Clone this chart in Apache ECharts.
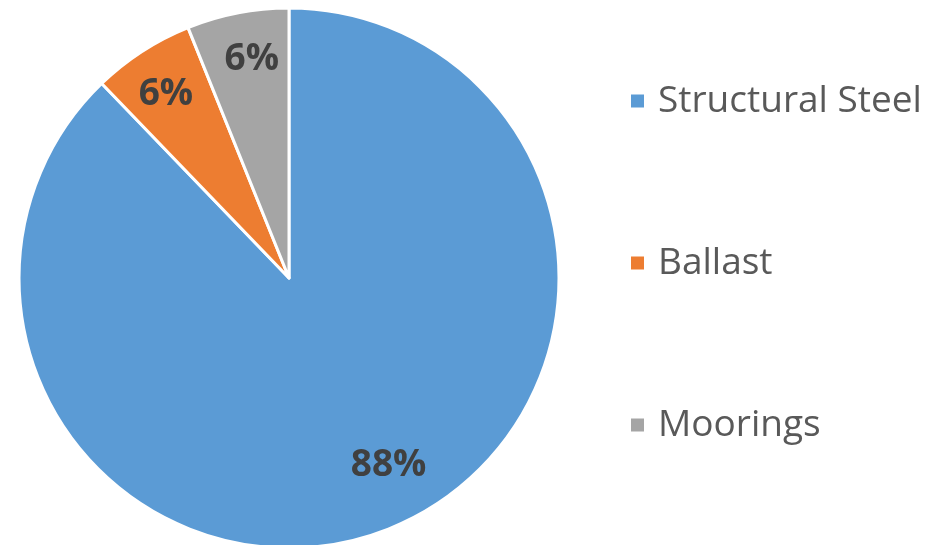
<!DOCTYPE html>
<html>
<head>
<meta charset="utf-8">
<script src="https://cdn.jsdelivr.net/npm/echarts@6/dist/echarts.min.js"></script>
<style>
  html, body { margin: 0; padding: 0; background: #ffffff; }
  #chart { width: 936px; height: 545px; }
</style>
</head>
<body>
<div id="chart"></div>
<script>
// Cost breakdown shares (percent)
const categories = ['Structural Steel', 'Ballast', 'Moorings'];
const shares = [87.8, 6.1, 6.1];
const colors = ['#5B9BD5', '#ED7D31', '#A5A5A5'];

// Label nudges away from the default mid-radius spot
const labelNudge = [[48, 59], [-48, -68], [-11, -83]];

const chart = echarts.init(document.getElementById('chart'), null, { renderer: 'canvas' });

chart.setOption({
  animation: false,
  color: colors,
  legend: {
    orient: 'vertical',
    left: 624,
    top: 76,
    itemWidth: 15,
    itemHeight: 15,
    itemGap: 122,
    icon: 'rect',
    data: categories,
    textStyle: {
      fontFamily: 'Open Sans',
      fontSize: 37,
      color: '#595959',
      lineHeight: 40,
      padding: [0, 0, 0, 8]
    }
  },
  series: [{
    type: 'pie',
    center: [289, 278],
    radius: [0, 270],
    startAngle: 90,
    clockwise: true,
    itemStyle: { borderColor: '#ffffff', borderWidth: 3 },
    label: {
      show: true,
      position: 'inside',
      formatter: p => Math.round(p.value) + '%',
      fontFamily: 'Open Sans',
      fontWeight: 'bold',
      fontSize: 37,
      color: '#404040'
    },
    labelLine: { show: false },
    labelLayout: p => ({ dx: labelNudge[p.dataIndex][0], dy: labelNudge[p.dataIndex][1] }),
    data: categories.map((name, i) => ({ name, value: shares[i] }))
  }]
});
</script>
</body>
</html>
